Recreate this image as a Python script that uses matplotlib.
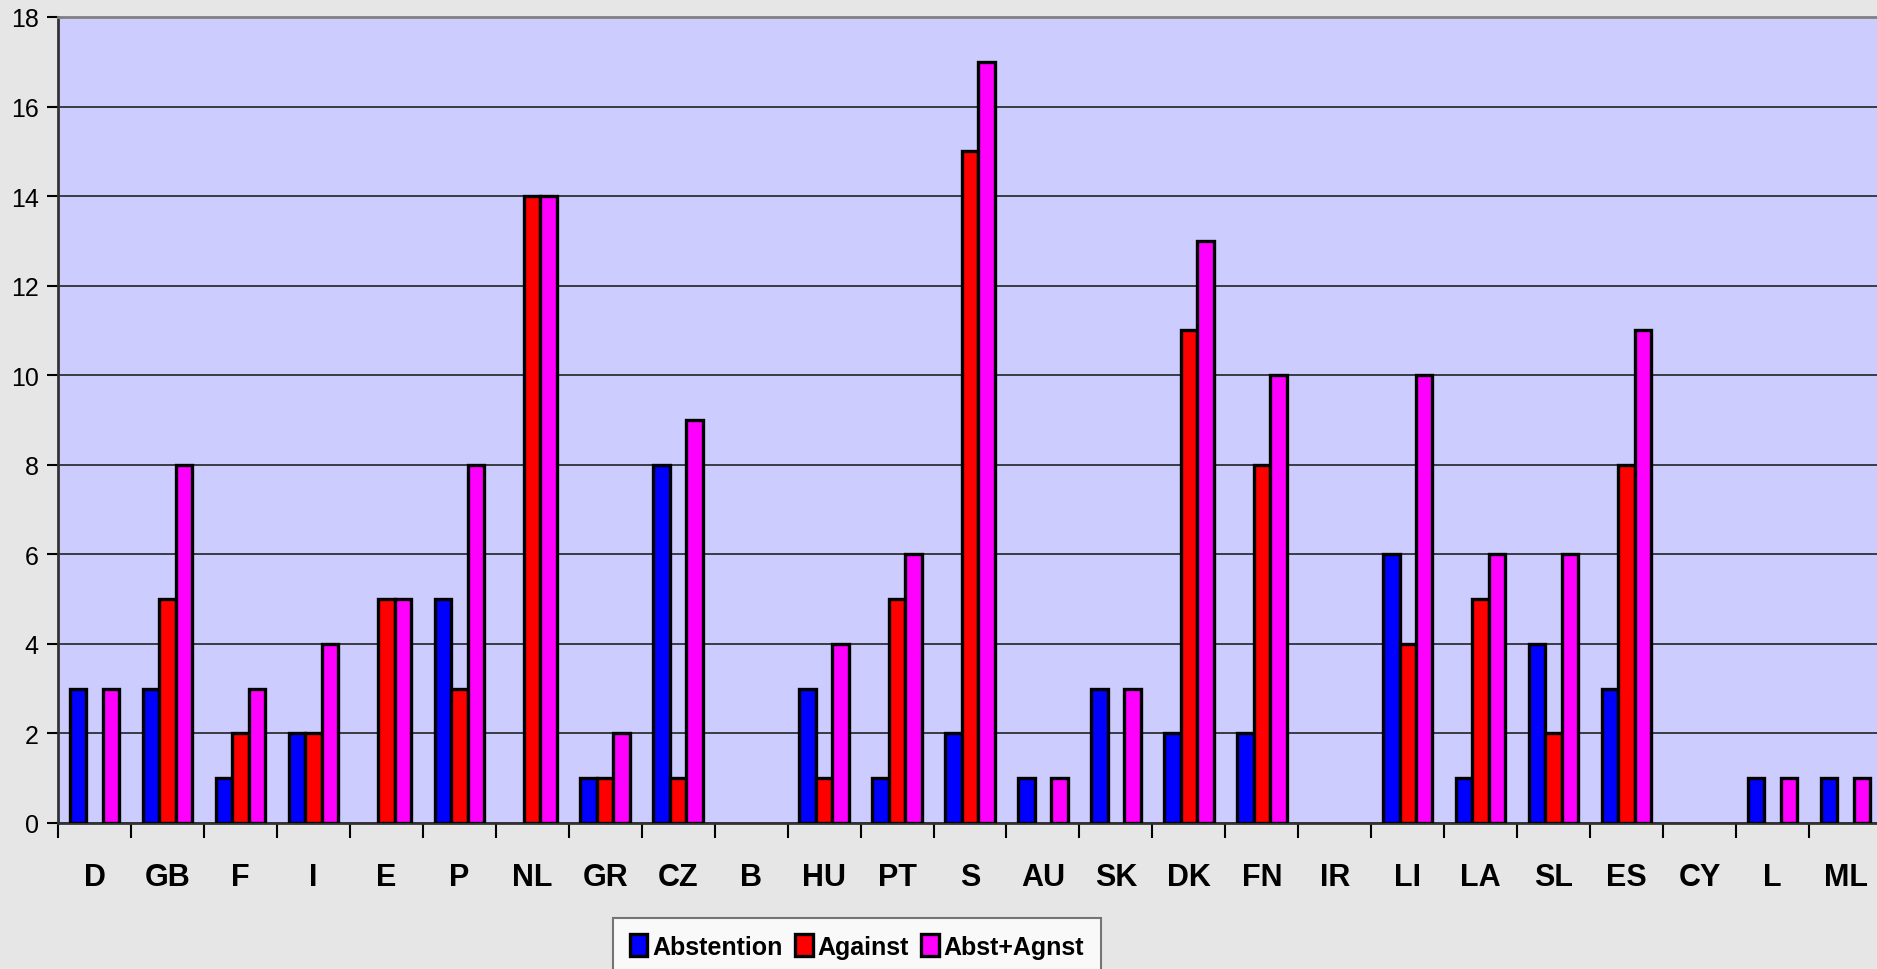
import numpy as np
import matplotlib.pyplot as plt
from matplotlib.ticker import FixedLocator, NullFormatter

countries = ['D', 'GB', 'F', 'I', 'E', 'P', 'NL', 'GR', 'CZ', 'B', 'HU', 'PT', 'S',
             'AU', 'SK', 'DK', 'FN', 'IR', 'LI', 'LA', 'SL', 'ES', 'CY', 'L', 'ML']
abstention = [3, 3, 1, 2, 0, 5, 0, 1, 8, 0, 3, 1, 2, 1, 3, 2, 2, 0, 6, 1, 4, 3, 0, 1, 1]
against = [0, 5, 2, 2, 5, 3, 14, 1, 1, 0, 1, 5, 15, 0, 0, 11, 8, 0, 4, 5, 2, 8, 0, 0, 0]
abst_agnst = [3, 8, 3, 4, 5, 8, 14, 2, 9, 0, 4, 6, 17, 1, 3, 13, 10, 0, 10, 6, 6, 11, 0, 1, 1]

series = [('Abstention', abstention, '#0000ff'),
          ('Against', against, '#ff0000'),
          ('Abst+Agnst', abst_agnst, '#ff00ff')]

fig = plt.figure(figsize=(18.77, 9.70), dpi=100, facecolor='#e6e6e6')
ax = fig.add_axes([58 / 1877, 1 - 824 / 970, (1882 - 58) / 1877, (824 - 18) / 970])
ax.set_facecolor('#ccccff')

x = np.arange(len(countries))
w = 0.226
handles = []
for i, (name, vals, col) in enumerate(series):
    v = np.array(vals, dtype=float)
    v[v == 0] = np.nan  # zero bars are not drawn in the original
    b = ax.bar(x + (i - 1) * w, v, w, color=col, edgecolor='black', linewidth=2.4,
               label=name, zorder=3)
    handles.append(b)

ax.set_xlim(-0.5, len(countries) - 0.5)
ax.set_ylim(0, 18)
ax.set_yticks(range(0, 19, 2))
ax.yaxis.grid(True, color='#222222', linewidth=1.2, zorder=0)
ax.tick_params(axis='y', direction='out', length=8, width=1.5, labelsize=18, pad=6)

# category boundaries get the tick marks, labels sit at the centres
ax.xaxis.set_minor_locator(FixedLocator(np.arange(-0.5, len(countries), 1.0)))
ax.xaxis.set_minor_formatter(NullFormatter())
ax.set_xticks(x)
ax.set_xticklabels(countries, fontsize=22, fontweight='bold',
                   family=['Liberation Sans', 'DejaVu Sans'])
ax.xaxis.set_tick_params(which='minor', direction='out', length=11, width=1.5)
# label cap tops sit about 39 px below the axis line
ax.xaxis.set_tick_params(which='major', direction='out', length=0, width=0, pad=28)

for s in ['left', 'bottom']:
    ax.spines[s].set_linewidth(2)
    ax.spines[s].set_color('#333333')
ax.spines['top'].set_color('#808080')
ax.spines['top'].set_linewidth(2)
ax.spines['right'].set_visible(False)

for t in ax.get_yticklabels():
    t.set_family(['Liberation Sans', 'DejaVu Sans'])

leg = fig.legend(handles=handles, loc='upper center', bbox_to_anchor=(857 / 1877, 1 - 919 / 970),
                 ncol=3, frameon=True, fancybox=False, edgecolor='#555555',
                 handlelength=0.7, handleheight=0.95, handletextpad=0.2, columnspacing=0.5,
                 borderpad=0.65, borderaxespad=0,
                 prop={'family': ['Liberation Sans', 'DejaVu Sans'],
                       'weight': 'bold', 'size': 18})
leg.get_frame().set_linewidth(1.5)

fig.savefig('out.png', dpi=100, facecolor=fig.get_facecolor())
